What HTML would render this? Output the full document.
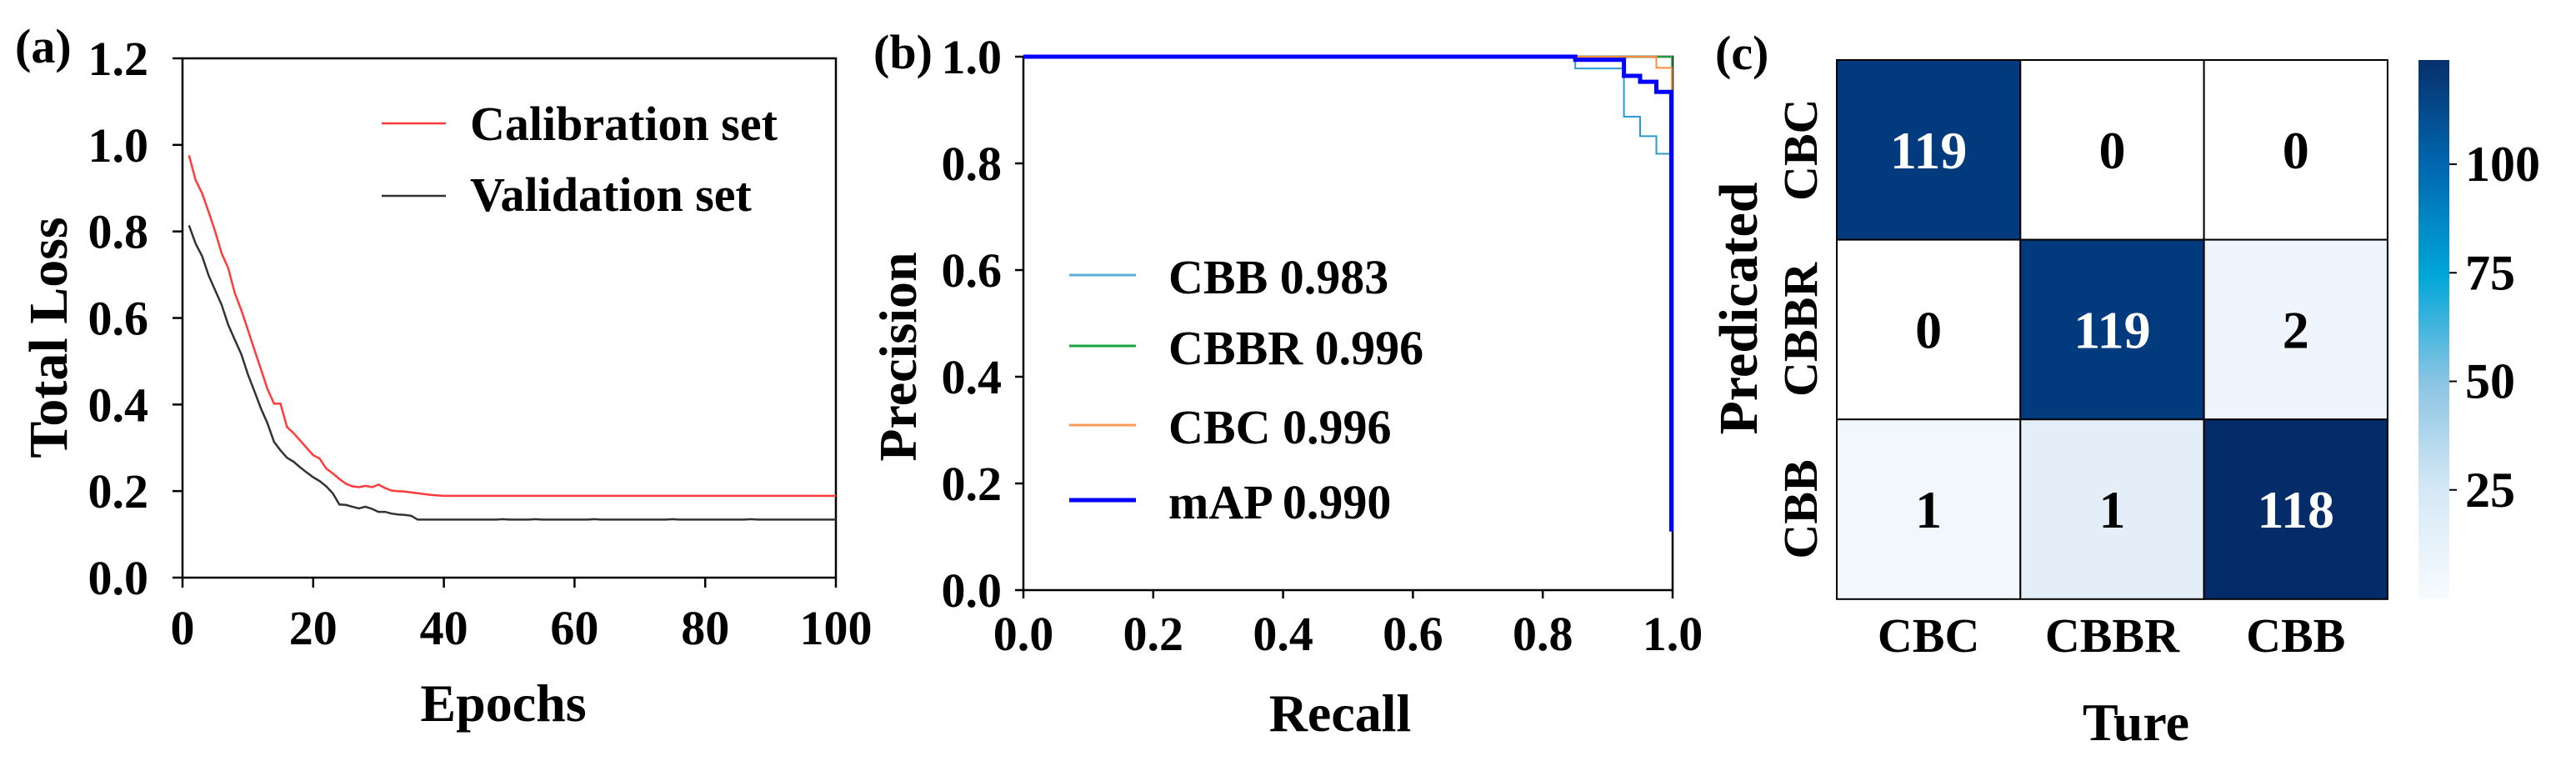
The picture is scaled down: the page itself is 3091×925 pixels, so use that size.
<!DOCTYPE html>
<html><head><meta charset="utf-8"><style>
html,body{margin:0;padding:0;background:#fff;}
svg{display:block;}
svg text{font-family:"Liberation Serif","Times New Roman","DejaVu Serif",serif;font-weight:bold;}
</style></head><body>
<svg id="fig" width="3091" height="925" viewBox="0 0 3091 925" xmlns="http://www.w3.org/2000/svg" font-family="Liberation Serif, serif" font-weight="bold">
<defs>
<linearGradient id="cbgrad" x1="0" y1="1" x2="0" y2="0">
<stop offset="0" stop-color="#f7fbff"/>
<stop offset="0.2" stop-color="#d6e8f5"/>
<stop offset="0.4" stop-color="#8cc5e3"/>
<stop offset="0.6" stop-color="#00a6d8"/>
<stop offset="0.8" stop-color="#0068b0"/>
<stop offset="1" stop-color="#08306b"/>
</linearGradient>
</defs>
<g id="pa"></g>
<g id="pb"></g>
<g id="pc"></g>
</svg>
<script>
// ---------- Panel (a) data ----------
const lossEpochs = [1,2,3,4,5,6,7,8,9,10,11,12,13,14,15,16,17,18,19,20,21,22,23,24,25,26,27,28,29,30,31,32,33,34,35,36,37,38,39,40,41,42,43,44,45,46,47,48,49,50,51,52,53,54,55,56,57,58,59,60,61,62,63,64,65,66,67,68,69,70,71,72,73,74,75,76,77,78,79,80,81,82,83,84,85,86,87,88,89,90,91,92,93,94,95,96,97,98,99,100];
const calibLoss = [0.976,0.919,0.888,0.845,0.800,0.749,0.715,0.658,0.618,0.573,0.527,0.482,0.436,0.402,0.402,0.348,0.334,0.317,0.300,0.283,0.275,0.252,0.241,0.228,0.217,0.211,0.209,0.212,0.209,0.215,0.207,0.201,0.200,0.199,0.197,0.195,0.193,0.191,0.190,0.189,0.189,0.189,0.189,0.189,0.189,0.189,0.189,0.189,0.189,0.189,0.189,0.189,0.189,0.189,0.189,0.189,0.189,0.189,0.189,0.189,0.189,0.189,0.189,0.189,0.189,0.189,0.189,0.189,0.189,0.189,0.189,0.189,0.189,0.189,0.189,0.189,0.189,0.189,0.189,0.189,0.189,0.189,0.189,0.189,0.189,0.189,0.189,0.189,0.189,0.189,0.189,0.189,0.189,0.189,0.189,0.189,0.189,0.189,0.189,0.189];
const validLoss = [0.814,0.772,0.743,0.698,0.664,0.630,0.584,0.550,0.516,0.470,0.431,0.391,0.357,0.314,0.294,0.277,0.268,0.255,0.243,0.232,0.223,0.211,0.195,0.169,0.168,0.164,0.160,0.164,0.159,0.152,0.152,0.148,0.146,0.145,0.143,0.134,0.134,0.134,0.134,0.134,0.134,0.134,0.134,0.134,0.134,0.134,0.134,0.134,0.135,0.134,0.134,0.134,0.134,0.135,0.134,0.134,0.134,0.134,0.134,0.134,0.134,0.134,0.135,0.134,0.134,0.134,0.134,0.134,0.134,0.134,0.134,0.134,0.134,0.134,0.135,0.134,0.134,0.134,0.134,0.134,0.134,0.134,0.134,0.134,0.134,0.134,0.135,0.134,0.134,0.134,0.134,0.134,0.134,0.134,0.134,0.134,0.134,0.134,0.134,0.134];
const lossXTicks = [0,20,40,60,80,100];
const lossYTicks = [0.0,0.2,0.4,0.6,0.8,1.0,1.2];

// ---------- Panel (b) data ----------
const cbbRecall    = [0,0.85,0.85,0.925,0.925,0.95,0.95,0.975,0.975,0.998,0.998];
const cbbPrecision = [1,1,0.978,0.978,0.8875,0.8875,0.851,0.851,0.818,0.818,0.11];
const cbbrRecall    = [0,0.999,0.999];
const cbbrPrecision = [1,1,0.93];
const cbcRecall    = [0,0.975,0.975,0.999,0.999];
const cbcPrecision = [1,1,0.979,0.979,0.93];
const mapRecall    = [0,0.85,0.85,0.925,0.925,0.95,0.95,0.975,0.975,0.998,0.998];
const mapPrecision = [1,1,0.994,0.994,0.964,0.964,0.953,0.953,0.934,0.934,0.11];
const prTicks = [0.0,0.2,0.4,0.6,0.8,1.0];
const prLegend = ["CBB 0.983","CBBR 0.996","CBC 0.996","mAP 0.990"];

// ---------- Panel (c) data ----------
const cmClasses = ["CBC","CBBR","CBB"];
const cmRow0 = [119,0,0];
const cmRow1 = [0,119,2];
const cmRow2 = [1,1,118];
const cbTicks = [25,50,75,100];

const NS = "http://www.w3.org/2000/svg";
function mk(parent, tag, attrs, text){
  const e = document.createElementNS(NS, tag);
  for (const k in attrs) e.setAttribute(k, attrs[k]);
  if (text !== undefined) {
    e.textContent = text;
    e.setAttribute('font-family', '"Liberation Serif", "Times New Roman", serif');
    e.setAttribute('font-weight', 'bold');
  }
  parent.appendChild(e);
  return e;
}

// ================= Panel A =================
(function(){
  const g = document.getElementById('pa');
  const L=219, R=1003, T=70, B=693;
  const sx = v => L + (v-0)/100*(R-L);
  const sy = v => B - v/1.2*(B-T);
  let e;
  e = mk(g,'rect',{x:L,y:T,width:R-L,height:B-T,fill:'none',stroke:'#000','stroke-width':2.5});
   
  lossXTicks.forEach(t=>{
    e = mk(g,'line',{x1:sx(t),x2:sx(t),y1:B,y2:B+12,stroke:'#000','stroke-width':2.5});
     
    e = mk(g,'text',{x:sx(t),y:773,'font-size':58,'text-anchor':'middle'},String(t));
     
  });
  lossYTicks.forEach(t=>{
    e = mk(g,'line',{x1:L-12,x2:L,y1:sy(t),y2:sy(t),stroke:'#000','stroke-width':2.5});
     
    e = mk(g,'text',{x:178,y:sy(t)+20,'font-size':58,'text-anchor':'end'},t.toFixed(1));
     
  });
  const pts = arr => arr.map((v,i)=>sx(lossEpochs[i]).toFixed(1)+','+sy(v).toFixed(1)).join(' ');
  e = mk(g,'polyline',{points:pts(calibLoss),fill:'none',stroke:'#ff3b3b','stroke-width':2.5});
   
  e = mk(g,'polyline',{points:pts(validLoss),fill:'none',stroke:'#333','stroke-width':2.5});
   
  e = mk(g,'line',{x1:458,x2:535,y1:148,y2:148,stroke:'#ff3b3b','stroke-width':2.5});
   
  e = mk(g,'text',{x:564,y:168,'font-size':58},'Calibration set');
   
  e = mk(g,'line',{x1:458,x2:535,y1:235,y2:235,stroke:'#333','stroke-width':2.5});
   
  e = mk(g,'text',{x:564,y:253,'font-size':58},'Validation set');
   
  e = mk(g,'text',{x:0,y:0,'font-size':66,'text-anchor':'middle',transform:'translate(80,405) rotate(-90)'},'Total Loss');
   
  e = mk(g,'text',{x:604,y:865,'font-size':64,'text-anchor':'middle'},'Epochs');
   
  e = mk(g,'text',{x:18,y:75,'font-size':58},'(a)');
   
})();

// ================= Panel B =================
(function(){
  const g = document.getElementById('pb');
  const L=1228, R=2007, T=68, B=708;
  const sx = v => L + v*(R-L);
  const sy = v => B - v*(B-T);
  let e;
  e = mk(g,'rect',{x:L,y:T,width:R-L,height:B-T,fill:'none',stroke:'#000','stroke-width':2.5});
   
  prTicks.forEach(t=>{
    e = mk(g,'line',{x1:sx(t),x2:sx(t),y1:B,y2:B+10,stroke:'#000','stroke-width':2.5});
     
    e = mk(g,'text',{x:sx(t),y:780,'font-size':58,'text-anchor':'middle'},t.toFixed(1));
     
    e = mk(g,'line',{x1:L-10,x2:L,y1:sy(t),y2:sy(t),stroke:'#000','stroke-width':2.5});
     
    e = mk(g,'text',{x:1202,y:sy(t)+20,'font-size':58,'text-anchor':'end'},t.toFixed(1));
     
  });
  const pts = (rx,py) => rx.map((r,i)=>sx(r).toFixed(1)+','+sy(py[i]).toFixed(1)).join(' ');
  e = mk(g,'polyline',{points:pts(cbbrRecall,cbbrPrecision),fill:'none',stroke:'#1aa33a','stroke-width':2});
   
  e = mk(g,'polyline',{points:pts(cbcRecall,cbcPrecision),fill:'none',stroke:'#ff8c3a','stroke-width':2});
   
  e = mk(g,'polyline',{points:pts(cbbRecall,cbbPrecision),fill:'none',stroke:'#2a9ad0','stroke-width':2});
   
  e = mk(g,'polyline',{points:pts(mapRecall,mapPrecision),fill:'none',stroke:'#0000ff','stroke-width':5});
   
  const lc = ['#5aaed8','#1aa33a','#ff9c5a','#0000ff'];
  const lw = [3,3,3,5];
  const ly = [330,415,510,600];
  prLegend.forEach((s,i)=>{
    e = mk(g,'line',{x1:1283,x2:1363,y1:ly[i],y2:ly[i],stroke:lc[i],'stroke-width':lw[i]});
     
    e = mk(g,'text',{x:1402,y:ly[i]+22,'font-size':58},s);
     
  });
  e = mk(g,'text',{x:0,y:0,'font-size':64,'text-anchor':'middle',transform:'translate(1099,428) rotate(-90)'},'Precision');
   
  e = mk(g,'text',{x:1608,y:877,'font-size':64,'text-anchor':'middle'},'Recall');
   
  e = mk(g,'text',{x:1048,y:82,'font-size':58},'(b)');
   
})();

// ================= Panel C =================
(function(){
  const g = document.getElementById('pc');
  const L=2204, T=72, CW=220.3, CH=215.6;
  const rows=[cmRow0,cmRow1,cmRow2];
  const cellColor = v => {
    if (v>=100) return v>118.5?'#023a7e':'#032c68';
    if (v===0) return '#ffffff';
    if (v===2) return '#eef5fc';
    return '#f1f7fd';
  };
  let e;
  rows.forEach((row,r)=>{
    row.forEach((v,c)=>{
      let fill = cellColor(v);
      if (r===2 && c===1) fill = '#e4eef8';
      e = mk(g,'rect',{x:L+c*CW,y:T+r*CH,width:CW,height:CH,fill:fill,stroke:'#000','stroke-width':2});
       
      e = mk(g,'text',{x:L+c*CW+CW/2,y:T+r*CH+CH/2+22,'font-size':64,'text-anchor':'middle',fill:v>60?'#fff':'#000'},String(v));
       
    });
  });
  cmClasses.forEach((s,i)=>{
    e = mk(g,'text',{x:L+i*CW+CW/2,y:782,'font-size':58,'text-anchor':'middle'},s);
     
    e = mk(g,'text',{x:0,y:0,'font-size':58,'text-anchor':'middle',transform:'translate(2180,'+(T+i*CH+CH/2)+') rotate(-90)'},s);
     
  });
  e = mk(g,'text',{x:0,y:0,'font-size':66,'text-anchor':'middle',transform:'translate(2108,370) rotate(-90)'},'Predicated');
   
  e = mk(g,'text',{x:2563,y:888,'font-size':64,'text-anchor':'middle'},'Ture');
   
  e = mk(g,'text',{x:2058,y:83,'font-size':58},'(c)');
   
  const cbT=72, cbB=718, vmax=124;
  const cy = v => cbB - v/vmax*(cbB-cbT);
  e = mk(g,'rect',{x:2902,y:cbT,width:37,height:cbB-cbT,fill:'url(#cbgrad)'});
   
  cbTicks.forEach(t=>{
    e = mk(g,'line',{x1:2939,x2:2948,y1:cy(t),y2:cy(t),stroke:'#000','stroke-width':2});
     
    e = mk(g,'text',{x:2958,y:cy(t)+20,'font-size':60},String(t));
     
  });
})();
</script>
</body></html>
